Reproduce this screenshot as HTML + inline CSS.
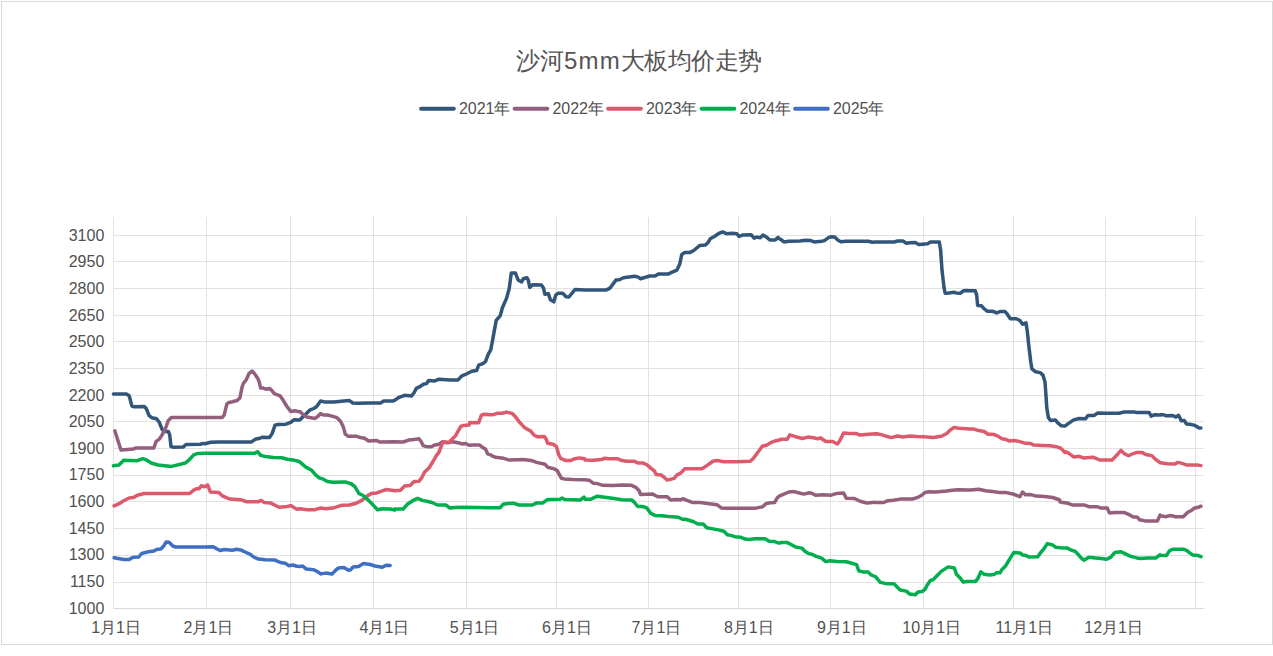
<!DOCTYPE html>
<html><head><meta charset="utf-8"><style>
html,body{margin:0;padding:0;background:#fff;width:1273px;height:656px;overflow:hidden}
svg{position:absolute;left:0;top:0}
text{font-family:"Liberation Sans",sans-serif;fill:#555}
.ax{font-size:16px;fill:#505050}
.lg{font-size:16px;fill:#505050}
.tt{font-size:24px;fill:#555}
</style></head><body>
<svg width="1273" height="656" viewBox="0 0 1273 656">
<rect x="1.5" y="1.5" width="1271" height="643" fill="#fff" stroke="#d9d9d9" stroke-width="1"/>
<text x="516" y="69" class="tt">沙河<tspan letter-spacing="1.2">5mm</tspan><tspan letter-spacing="-0.5">大板均价走势</tspan></text>
<path d="M113 235.5H1204 M113 261.5H1204 M113 288.5H1204 M113 315.5H1204 M113 341.5H1204 M113 368.5H1204 M113 395.5H1204 M113 421.5H1204 M113 448.5H1204 M113 475.5H1204 M113 501.5H1204 M113 528.5H1204 M113 555.5H1204 M113 582.5H1204 M113.5 217V608 M206.5 217V608 M290.5 217V608 M373.5 217V608 M466.5 217V608 M556.5 217V608 M648.5 217V608 M738.5 217V608 M830.5 217V608 M923.5 217V608 M1013.5 217V608 M1105.5 217V608 M1195.5 217V608" stroke="#e2e2e2" stroke-width="1" fill="none" shape-rendering="crispEdges"/>
<path d="M113 608.5H1204" stroke="#d9d9d9" stroke-width="1" fill="none" shape-rendering="crispEdges"/>
<text x="104.3" y="613.70" text-anchor="end" class="ax">1000</text>
<text x="104.3" y="587.06" text-anchor="end" class="ax">1150</text>
<text x="104.3" y="560.42" text-anchor="end" class="ax">1300</text>
<text x="104.3" y="533.77" text-anchor="end" class="ax">1450</text>
<text x="104.3" y="507.13" text-anchor="end" class="ax">1600</text>
<text x="104.3" y="480.49" text-anchor="end" class="ax">1750</text>
<text x="104.3" y="453.84" text-anchor="end" class="ax">1900</text>
<text x="104.3" y="427.20" text-anchor="end" class="ax">2050</text>
<text x="104.3" y="400.56" text-anchor="end" class="ax">2200</text>
<text x="104.3" y="373.92" text-anchor="end" class="ax">2350</text>
<text x="104.3" y="347.27" text-anchor="end" class="ax">2500</text>
<text x="104.3" y="320.63" text-anchor="end" class="ax">2650</text>
<text x="104.3" y="293.99" text-anchor="end" class="ax">2800</text>
<text x="104.3" y="267.34" text-anchor="end" class="ax">2950</text>
<text x="104.3" y="240.70" text-anchor="end" class="ax">3100</text>
<text x="116.1" y="633.2" text-anchor="middle" class="ax">1月1日</text>
<text x="208.4" y="633.2" text-anchor="middle" class="ax">2月1日</text>
<text x="292.1" y="633.2" text-anchor="middle" class="ax">3月1日</text>
<text x="384.5" y="633.2" text-anchor="middle" class="ax">4月1日</text>
<text x="474.6" y="633.2" text-anchor="middle" class="ax">5月1日</text>
<text x="566.9" y="633.2" text-anchor="middle" class="ax">6月1日</text>
<text x="656.5" y="633.2" text-anchor="middle" class="ax">7月1日</text>
<text x="748.8" y="633.2" text-anchor="middle" class="ax">8月1日</text>
<text x="841.8" y="633.2" text-anchor="middle" class="ax">9月1日</text>
<text x="931.7" y="633.2" text-anchor="middle" class="ax">10月1日</text>
<text x="1024.3" y="633.2" text-anchor="middle" class="ax">11月1日</text>
<text x="1113.6" y="633.2" text-anchor="middle" class="ax">12月1日</text>
<path d="M113.4 394.1 L126.5 394.1 L129.2 395.8 L131.9 406.1 L134.0 406.7 L144.3 406.5 L146.4 408.8 L149.1 415.7 L151.8 417.7 L156.6 418.7 L159.4 422.5 L162.1 429.4 L164.2 431.4 L168.3 431.4 L169.7 434.9 L171.0 446.5 L173.1 447.2 L183.4 446.9 L186.1 444.5 L200.5 444.2 L203.3 443.4 L205.0 443.7 L210.5 442.3 L218.7 441.9 L251.6 441.9 L255.1 439.3 L259.9 438.2 L262.6 437.2 L269.5 437.6 L272.2 433.4 L275.0 425.2 L277.7 424.5 L285.9 424.2 L290.7 422.4 L294.2 419.7 L299.7 419.9 L300.0 419.8 L302.7 417.0 L306.9 412.9 L309.6 410.2 L313.7 408.5 L316.5 406.7 L320.6 400.9 L324.0 401.9 L334.3 401.9 L341.2 401.3 L349.4 400.6 L352.8 403.0 L357.6 403.3 L368.6 402.9 L380.9 402.9 L383.7 400.9 L393.3 400.9 L395.0 400.1 L399.1 397.3 L404.6 395.3 L411.5 396.0 L414.2 392.5 L416.3 388.4 L420.4 386.4 L423.1 384.3 L426.6 383.6 L428.6 380.5 L434.8 380.9 L438.9 379.2 L449.9 379.9 L458.1 379.9 L461.5 376.1 L466.3 374.0 L471.8 371.3 L476.6 370.6 L478.7 365.1 L482.8 363.7 L485.5 361.7 L488.3 354.1 L490.7 350.0 L492.7 339.6 L496.2 320.4 L500.3 315.6 L502.3 308.0 L506.5 298.4 L509.2 288.8 L511.3 273.0 L515.4 273.0 L518.1 279.9 L521.6 281.9 L523.6 278.5 L527.0 277.8 L528.4 280.6 L529.8 287.4 L532.5 284.7 L541.4 285.1 L543.5 288.1 L544.9 294.3 L548.3 293.6 L550.4 299.8 L553.8 301.8 L555.8 295.0 L557.9 293.3 L562.7 293.3 L566.1 296.8 L568.9 297.0 L572.3 292.9 L575.0 289.5 L585.0 289.9 L606.3 289.9 L609.7 288.3 L612.4 284.9 L615.9 280.1 L619.3 279.7 L623.4 277.7 L628.9 276.9 L634.4 276.2 L637.8 276.9 L640.6 278.7 L645.4 277.3 L649.5 276.0 L655.0 276.0 L658.4 273.9 L668.7 273.9 L672.8 271.8 L676.9 270.1 L679.7 264.3 L681.7 254.7 L682.1 254.3 L684.8 252.6 L689.6 252.6 L693.7 250.5 L699.9 245.4 L705.4 245.1 L708.1 242.4 L710.2 238.8 L714.3 236.5 L718.4 233.7 L722.5 231.9 L726.6 233.7 L732.1 233.3 L736.9 233.7 L739.0 236.5 L742.4 235.1 L751.3 234.8 L754.1 238.2 L756.8 237.1 L760.2 237.8 L763.0 235.1 L766.4 237.1 L769.8 239.9 L775.3 239.9 L778.1 237.4 L780.0 239.2 L780.5 239.2 L783.9 241.9 L788.7 241.3 L799.7 241.0 L805.2 240.3 L810.7 240.6 L814.1 241.9 L821.6 241.3 L824.4 240.6 L828.5 237.6 L831.2 236.7 L834.7 237.1 L838.1 240.3 L840.8 241.7 L846.3 241.3 L868.3 241.3 L872.4 242.2 L875.0 241.9 L875.5 241.9 L894.7 241.9 L897.4 241.0 L902.9 241.0 L906.4 243.2 L909.8 242.8 L915.3 242.4 L918.7 244.6 L922.1 244.2 L927.6 243.8 L930.4 242.1 L939.3 242.1 L940.6 249.7 L942.0 270.3 L944.1 288.1 L945.2 293.2 L948.9 292.9 L953.7 292.2 L956.4 292.9 L960.5 293.2 L963.3 290.8 L966.0 290.6 L970.0 290.8 L970.5 290.7 L975.3 290.7 L976.7 295.1 L977.6 305.4 L981.5 305.8 L984.2 308.8 L987.6 311.3 L993.1 311.3 L996.6 312.9 L1000.0 311.6 L1004.8 311.6 L1006.8 313.6 L1010.3 318.8 L1016.4 318.8 L1019.9 320.5 L1022.6 324.2 L1026.0 322.8 L1027.4 332.1 L1028.8 345.8 L1030.8 362.3 L1031.9 368.9 L1035.4 371.7 L1040.2 372.6 L1042.9 375.1 L1045.0 381.9 L1045.9 394.3 L1046.8 408.0 L1048.4 417.6 L1050.5 420.6 L1055.3 419.9 L1058.0 423.1 L1061.4 425.8 L1064.9 426.1 L1068.2 423.6 L1073.7 419.9 L1079.2 418.5 L1085.4 418.8 L1088.1 415.4 L1094.3 415.4 L1097.7 412.9 L1105.3 413.3 L1119.0 413.3 L1124.5 411.9 L1134.1 411.9 L1136.8 412.6 L1149.2 412.6 L1151.2 416.1 L1154.7 414.7 L1160.0 415.1 L1160.9 414.7 L1163.1 414.7 L1166.3 415.8 L1172.7 415.5 L1175.9 417.1 L1178.5 415.3 L1180.1 418.1 L1181.2 420.8 L1184.4 420.6 L1186.5 424.0 L1189.7 424.3 L1194.0 425.1 L1196.7 426.5 L1198.8 427.9 L1200.9 427.9" stroke="#315679" stroke-width="3.5" fill="none" stroke-linejoin="round" stroke-linecap="round"/>
<path d="M114.8 430.8 L121.0 450.0 L133.3 449.0 L136.1 447.9 L153.9 447.9 L156.0 441.7 L159.4 439.0 L162.1 434.9 L165.6 428.0 L168.3 420.5 L171.7 417.4 L205.0 417.6 L222.1 417.6 L224.2 414.9 L226.9 403.9 L229.0 402.5 L232.4 401.8 L237.2 400.5 L240.0 397.7 L242.0 387.4 L243.4 383.3 L246.2 379.9 L248.9 373.7 L252.1 371.0 L255.1 374.4 L257.8 378.5 L259.2 381.9 L260.6 388.1 L263.3 388.1 L266.0 389.2 L269.5 388.4 L271.5 390.2 L274.3 393.6 L277.7 395.0 L279.8 395.7 L282.5 399.1 L286.6 406.0 L290.7 411.4 L294.8 410.8 L299.7 411.9 L300.0 411.6 L302.7 414.3 L306.9 417.0 L311.0 417.7 L315.1 418.4 L317.8 416.4 L320.6 413.6 L323.3 415.0 L327.4 415.0 L332.9 416.4 L337.0 417.7 L340.5 421.2 L343.2 426.6 L345.3 434.2 L348.0 436.2 L356.2 436.2 L360.4 437.6 L364.5 438.3 L368.6 441.0 L376.8 440.4 L379.6 442.0 L395.0 441.7 L403.2 442.0 L408.7 440.1 L414.2 439.4 L419.0 438.7 L421.1 441.5 L423.1 445.6 L426.6 446.7 L431.4 446.7 L434.8 444.9 L438.9 444.2 L442.3 442.1 L447.1 442.8 L452.6 441.7 L458.1 442.8 L462.2 443.9 L465.6 443.5 L469.1 445.3 L473.2 444.9 L479.4 444.9 L482.8 447.6 L485.5 449.0 L487.6 453.8 L490.0 454.6 L492.7 456.2 L495.5 457.3 L503.7 458.3 L509.2 460.1 L517.4 459.7 L522.9 459.4 L531.2 460.4 L536.6 462.4 L544.9 464.2 L547.6 467.2 L554.5 468.9 L557.2 470.6 L561.3 478.2 L564.1 478.9 L572.3 479.6 L585.0 479.8 L589.1 480.2 L593.2 483.2 L597.3 483.6 L602.8 485.3 L612.4 485.5 L623.4 485.0 L631.6 485.3 L635.8 487.3 L639.2 490.8 L640.6 494.6 L646.7 494.2 L652.2 493.9 L657.7 496.7 L667.3 496.7 L670.7 499.9 L675.5 499.4 L681.0 499.7 L682.7 498.7 L686.9 500.4 L692.3 502.4 L700.6 502.4 L707.4 503.4 L717.0 504.7 L721.2 507.9 L726.6 508.2 L737.6 508.2 L751.3 508.2 L756.8 507.9 L762.3 506.9 L766.4 503.4 L770.5 502.7 L774.7 502.4 L777.4 497.6 L780.0 495.6 L780.5 495.7 L788.7 492.0 L794.2 491.6 L798.3 492.7 L803.8 494.1 L809.3 492.7 L812.0 493.4 L815.5 495.2 L823.0 494.8 L831.2 495.2 L836.7 493.4 L843.6 493.0 L846.3 498.2 L854.6 498.5 L860.0 501.2 L866.9 503.0 L875.0 502.3 L875.5 502.4 L883.7 502.5 L887.8 500.7 L893.3 500.3 L900.2 499.1 L912.5 499.0 L918.0 497.3 L922.1 495.0 L924.9 492.5 L929.0 491.8 L935.8 492.1 L946.8 491.1 L952.3 490.2 L957.8 489.8 L970.0 490.0 L970.5 490.0 L978.7 489.3 L985.6 490.7 L992.4 491.6 L999.3 492.6 L1006.2 492.6 L1013.0 494.0 L1019.9 496.7 L1022.6 492.0 L1025.4 494.8 L1030.8 494.6 L1036.3 496.1 L1044.6 496.4 L1052.8 497.5 L1059.7 500.0 L1060.0 501.9 L1062.7 502.6 L1068.2 503.3 L1072.3 505.0 L1084.7 505.1 L1088.8 506.7 L1097.0 506.7 L1101.2 508.1 L1107.3 508.1 L1109.4 512.9 L1114.9 512.6 L1124.5 512.6 L1128.6 514.3 L1132.7 516.8 L1137.5 517.3 L1139.6 519.8 L1145.0 520.9 L1157.4 520.9 L1159.5 516.4 L1160.0 515.0 L1160.9 515.9 L1162.0 516.1 L1166.3 516.7 L1169.5 515.6 L1172.7 515.9 L1174.8 516.7 L1183.3 516.7 L1185.5 514.5 L1187.6 512.4 L1190.8 510.8 L1194.0 508.3 L1198.3 507.3 L1200.9 506.2" stroke="#945e7d" stroke-width="3.5" fill="none" stroke-linejoin="round" stroke-linecap="round"/>
<path d="M114.1 505.9 L118.2 504.2 L123.7 500.7 L129.2 498.0 L133.3 497.6 L137.4 495.3 L144.3 493.5 L189.6 493.5 L193.7 490.1 L196.4 488.7 L199.2 488.7 L201.2 485.7 L204.7 486.7 L205.0 486.6 L207.7 485.0 L210.5 492.1 L218.7 492.4 L222.8 496.2 L229.7 499.0 L240.7 499.7 L246.2 501.7 L258.5 501.7 L261.2 500.4 L264.0 502.4 L270.8 503.1 L279.1 507.2 L287.3 506.5 L290.7 505.6 L296.9 509.3 L300.0 508.7 L306.9 509.8 L315.1 509.7 L320.6 508.0 L326.1 508.7 L334.3 507.7 L341.2 505.3 L349.4 505.0 L356.2 503.2 L360.4 501.2 L364.5 498.4 L367.2 495.9 L371.3 493.6 L376.8 492.9 L382.3 490.9 L386.4 489.5 L393.3 490.5 L395.0 490.8 L400.5 490.2 L404.6 486.0 L410.1 485.4 L414.2 481.5 L419.0 481.2 L421.7 477.8 L424.5 472.3 L429.3 467.5 L432.7 462.0 L436.2 455.9 L438.9 452.4 L441.0 446.9 L443.0 441.7 L449.2 442.6 L451.2 440.1 L455.4 436.0 L458.1 431.2 L460.8 426.4 L463.6 425.4 L469.1 425.0 L469.8 422.4 L478.7 422.7 L481.4 415.2 L484.2 414.2 L490.0 414.8 L494.1 414.4 L496.9 413.3 L502.3 413.3 L506.5 412.1 L511.9 413.4 L514.7 415.8 L518.8 421.3 L523.6 426.7 L527.0 429.1 L530.5 430.9 L533.9 435.0 L537.3 436.8 L544.2 436.4 L546.2 439.1 L547.6 443.2 L553.1 444.2 L556.5 446.6 L558.6 454.2 L560.6 458.3 L565.4 460.4 L570.9 460.4 L575.0 458.7 L579.2 457.9 L584.7 458.7 L585.0 459.9 L593.2 460.3 L601.5 459.5 L604.9 458.2 L608.3 458.8 L617.9 458.8 L622.0 460.6 L626.2 461.3 L634.4 461.3 L637.8 462.9 L642.6 462.9 L646.7 464.7 L650.8 468.1 L654.3 470.9 L656.3 474.6 L661.1 475.0 L664.6 477.7 L667.3 480.1 L671.4 479.1 L674.2 478.4 L676.9 475.0 L681.0 472.9 L684.8 468.8 L691.0 468.8 L701.9 468.8 L706.1 466.1 L712.9 461.3 L717.0 460.6 L723.9 461.7 L737.6 461.7 L750.0 461.3 L752.7 459.2 L756.8 453.7 L762.3 446.2 L766.4 445.2 L771.9 442.1 L776.0 440.7 L780.0 440.0 L780.5 439.2 L787.3 439.2 L789.8 434.8 L795.6 436.7 L802.4 438.5 L807.9 437.1 L813.4 437.8 L817.5 438.8 L820.3 437.8 L825.8 441.5 L832.6 441.5 L837.4 444.0 L839.5 441.3 L843.6 433.0 L849.1 433.4 L855.9 433.4 L860.0 435.1 L865.5 434.4 L875.0 433.7 L875.5 434.2 L876.9 433.8 L882.3 434.9 L886.5 436.3 L891.3 437.6 L897.4 436.0 L902.9 436.9 L909.8 435.9 L916.6 436.5 L923.5 436.7 L933.1 437.4 L941.3 436.3 L946.8 433.5 L950.2 430.1 L953.7 427.6 L959.2 428.3 L966.0 428.7 L970.0 429.1 L970.5 428.9 L973.2 428.9 L978.7 430.6 L984.2 431.5 L987.6 434.0 L993.8 434.4 L997.9 436.1 L1002.0 438.8 L1006.2 439.5 L1008.9 440.9 L1014.4 440.5 L1019.9 441.6 L1025.4 443.3 L1030.8 443.6 L1033.6 445.0 L1041.8 445.4 L1050.0 445.7 L1056.9 446.8 L1061.0 448.4 L1065.0 452.5 L1065.5 451.7 L1068.2 452.8 L1073.7 456.9 L1079.2 456.3 L1083.3 457.9 L1092.9 457.2 L1099.8 460.0 L1112.1 460.0 L1116.2 455.8 L1121.0 450.4 L1124.5 453.8 L1128.6 455.8 L1132.7 453.8 L1136.8 452.4 L1142.3 452.4 L1145.7 454.5 L1151.9 455.6 L1154.7 458.6 L1160.0 462.7 L1160.9 462.7 L1162.0 463.1 L1167.3 463.8 L1174.8 464.0 L1178.0 462.4 L1181.2 463.1 L1186.5 464.9 L1191.9 465.1 L1198.3 465.1 L1200.9 465.6" stroke="#dc5a6c" stroke-width="3.5" fill="none" stroke-linejoin="round" stroke-linecap="round"/>
<path d="M113.4 465.7 L118.9 465.0 L123.7 460.2 L137.4 460.7 L142.9 458.6 L145.7 459.6 L151.2 463.0 L158.0 465.0 L171.7 466.4 L185.4 463.0 L188.9 460.2 L193.7 454.8 L197.8 453.4 L205.0 453.3 L254.4 453.3 L257.8 451.7 L260.6 455.4 L265.4 456.5 L273.6 457.4 L281.8 457.8 L287.3 459.2 L292.8 459.9 L298.3 461.3 L300.0 462.1 L305.5 466.9 L311.7 470.3 L315.1 474.4 L319.2 477.8 L323.3 479.2 L327.4 481.5 L332.9 482.2 L345.3 481.9 L351.4 484.0 L354.9 486.7 L359.0 493.6 L362.4 495.0 L367.2 499.1 L372.7 504.6 L377.5 509.7 L382.3 508.7 L390.5 509.0 L394.7 510.1 L395.0 509.0 L403.2 509.0 L407.3 504.3 L412.8 500.7 L417.6 498.4 L422.4 500.4 L427.9 501.5 L432.0 502.5 L437.5 505.0 L445.8 505.0 L449.9 508.0 L455.4 507.6 L463.6 507.3 L477.3 507.6 L490.0 507.7 L500.3 507.7 L503.0 504.3 L507.8 503.6 L513.3 503.2 L518.8 505.0 L532.5 505.0 L536.6 502.9 L542.8 502.9 L547.6 499.5 L560.0 499.2 L562.0 498.1 L564.8 499.5 L580.5 499.9 L584.0 497.0 L585.0 499.3 L590.5 499.3 L597.3 496.2 L602.8 496.9 L612.4 498.3 L622.0 499.7 L631.6 499.9 L634.4 502.4 L637.8 506.5 L642.6 506.5 L646.7 507.9 L650.8 513.4 L655.0 515.4 L661.8 515.7 L668.7 516.5 L678.3 517.2 L682.4 519.3 L685.0 519.3 L685.5 519.3 L693.7 521.7 L697.8 524.0 L703.3 524.1 L706.7 527.8 L712.9 528.9 L718.4 529.9 L723.9 531.3 L727.3 534.7 L730.8 535.4 L734.9 536.7 L740.4 537.2 L745.2 539.1 L749.3 539.5 L754.8 538.8 L765.0 538.8 L769.2 541.3 L774.7 541.6 L778.1 542.9 L780.0 542.9 L780.5 542.6 L787.3 542.6 L791.5 544.7 L795.6 547.0 L801.7 548.1 L805.2 551.6 L808.6 553.6 L812.0 554.3 L816.2 556.4 L821.6 558.1 L825.8 561.6 L829.9 560.7 L836.7 561.6 L846.3 561.8 L851.8 563.2 L856.6 564.6 L858.7 570.8 L862.8 571.9 L868.3 572.1 L871.0 574.9 L875.0 576.5 L875.5 576.7 L877.5 579.0 L880.3 582.4 L885.1 583.4 L889.2 583.8 L894.0 583.8 L897.4 587.2 L900.2 590.0 L906.4 591.1 L909.8 594.1 L915.3 594.8 L918.0 592.0 L922.1 591.6 L924.9 589.3 L927.6 584.5 L930.4 580.4 L933.1 579.7 L937.2 575.6 L941.3 571.4 L948.2 566.9 L954.4 568.0 L956.4 574.2 L959.8 577.6 L963.3 582.1 L967.4 581.5 L970.0 581.5 L970.5 581.5 L975.3 581.5 L978.0 578.3 L980.8 571.9 L984.2 574.2 L989.7 574.9 L993.8 574.6 L996.6 572.8 L1000.0 572.8 L1002.0 569.4 L1005.5 566.0 L1009.6 559.1 L1013.7 552.6 L1019.9 552.9 L1022.6 555.0 L1026.0 555.4 L1028.8 557.0 L1037.7 556.8 L1040.4 552.9 L1043.9 548.8 L1047.3 543.6 L1052.8 545.0 L1055.5 547.2 L1061.0 547.8 L1065.0 548.1 L1066.9 547.9 L1071.0 550.0 L1075.1 551.3 L1078.5 554.8 L1081.3 558.2 L1084.0 560.2 L1088.8 557.2 L1095.7 557.9 L1101.2 558.5 L1106.6 559.3 L1110.8 557.1 L1114.9 552.4 L1120.4 551.7 L1124.5 553.4 L1130.0 556.1 L1136.8 557.9 L1140.9 558.6 L1147.8 557.9 L1156.0 557.9 L1160.0 554.8 L1160.9 555.3 L1166.3 555.6 L1169.5 550.8 L1172.7 549.2 L1183.3 549.2 L1186.5 550.3 L1189.7 552.9 L1192.9 555.1 L1198.3 555.6 L1200.9 556.7" stroke="#00ae4d" stroke-width="3.5" fill="none" stroke-linejoin="round" stroke-linecap="round"/>
<path d="M114.1 557.7 L119.6 558.7 L123.7 559.4 L129.2 559.4 L133.3 557.3 L138.8 557.0 L141.6 553.5 L148.4 551.8 L153.9 550.9 L156.6 549.5 L160.8 549.1 L163.5 546.3 L166.2 541.9 L169.0 542.2 L173.1 546.3 L175.8 547.0 L205.0 547.0 L213.2 546.7 L216.7 548.8 L220.1 550.5 L224.2 549.5 L232.4 550.2 L236.6 549.2 L240.7 549.9 L246.2 552.5 L250.3 554.3 L253.7 557.0 L258.5 559.1 L265.4 559.8 L275.0 560.1 L280.4 562.5 L285.2 563.2 L288.7 565.7 L292.8 565.0 L296.9 566.2 L300.0 566.5 L302.7 566.1 L306.4 569.1 L313.7 569.7 L316.5 571.1 L321.0 573.9 L325.6 573.1 L332.0 574.1 L334.8 571.1 L338.4 567.9 L343.9 567.4 L348.5 570.2 L350.3 570.0 L353.1 567.0 L358.6 566.5 L363.1 563.6 L370.4 564.5 L375.0 566.1 L382.3 567.3 L386.0 565.2 L390.1 565.6" stroke="#3f6fc4" stroke-width="3.5" fill="none" stroke-linejoin="round" stroke-linecap="round"/>
<path d="M421.1 108.8H453.8" stroke="#315679" stroke-width="4" stroke-linecap="round"/>
<text x="458.90000000000003" y="114.1" class="lg">2021年</text>
<path d="M514.6 108.8H547.3000000000001" stroke="#945e7d" stroke-width="4" stroke-linecap="round"/>
<text x="552.4" y="114.1" class="lg">2022年</text>
<path d="M608.1 108.8H640.8000000000001" stroke="#dc5a6c" stroke-width="4" stroke-linecap="round"/>
<text x="645.9" y="114.1" class="lg">2023年</text>
<path d="M701.6 108.8H734.3000000000001" stroke="#00ae4d" stroke-width="4" stroke-linecap="round"/>
<text x="739.4" y="114.1" class="lg">2024年</text>
<path d="M795.1 108.8H827.8000000000001" stroke="#3f6fc4" stroke-width="4" stroke-linecap="round"/>
<text x="832.9" y="114.1" class="lg">2025年</text>
</svg>
</body></html>
